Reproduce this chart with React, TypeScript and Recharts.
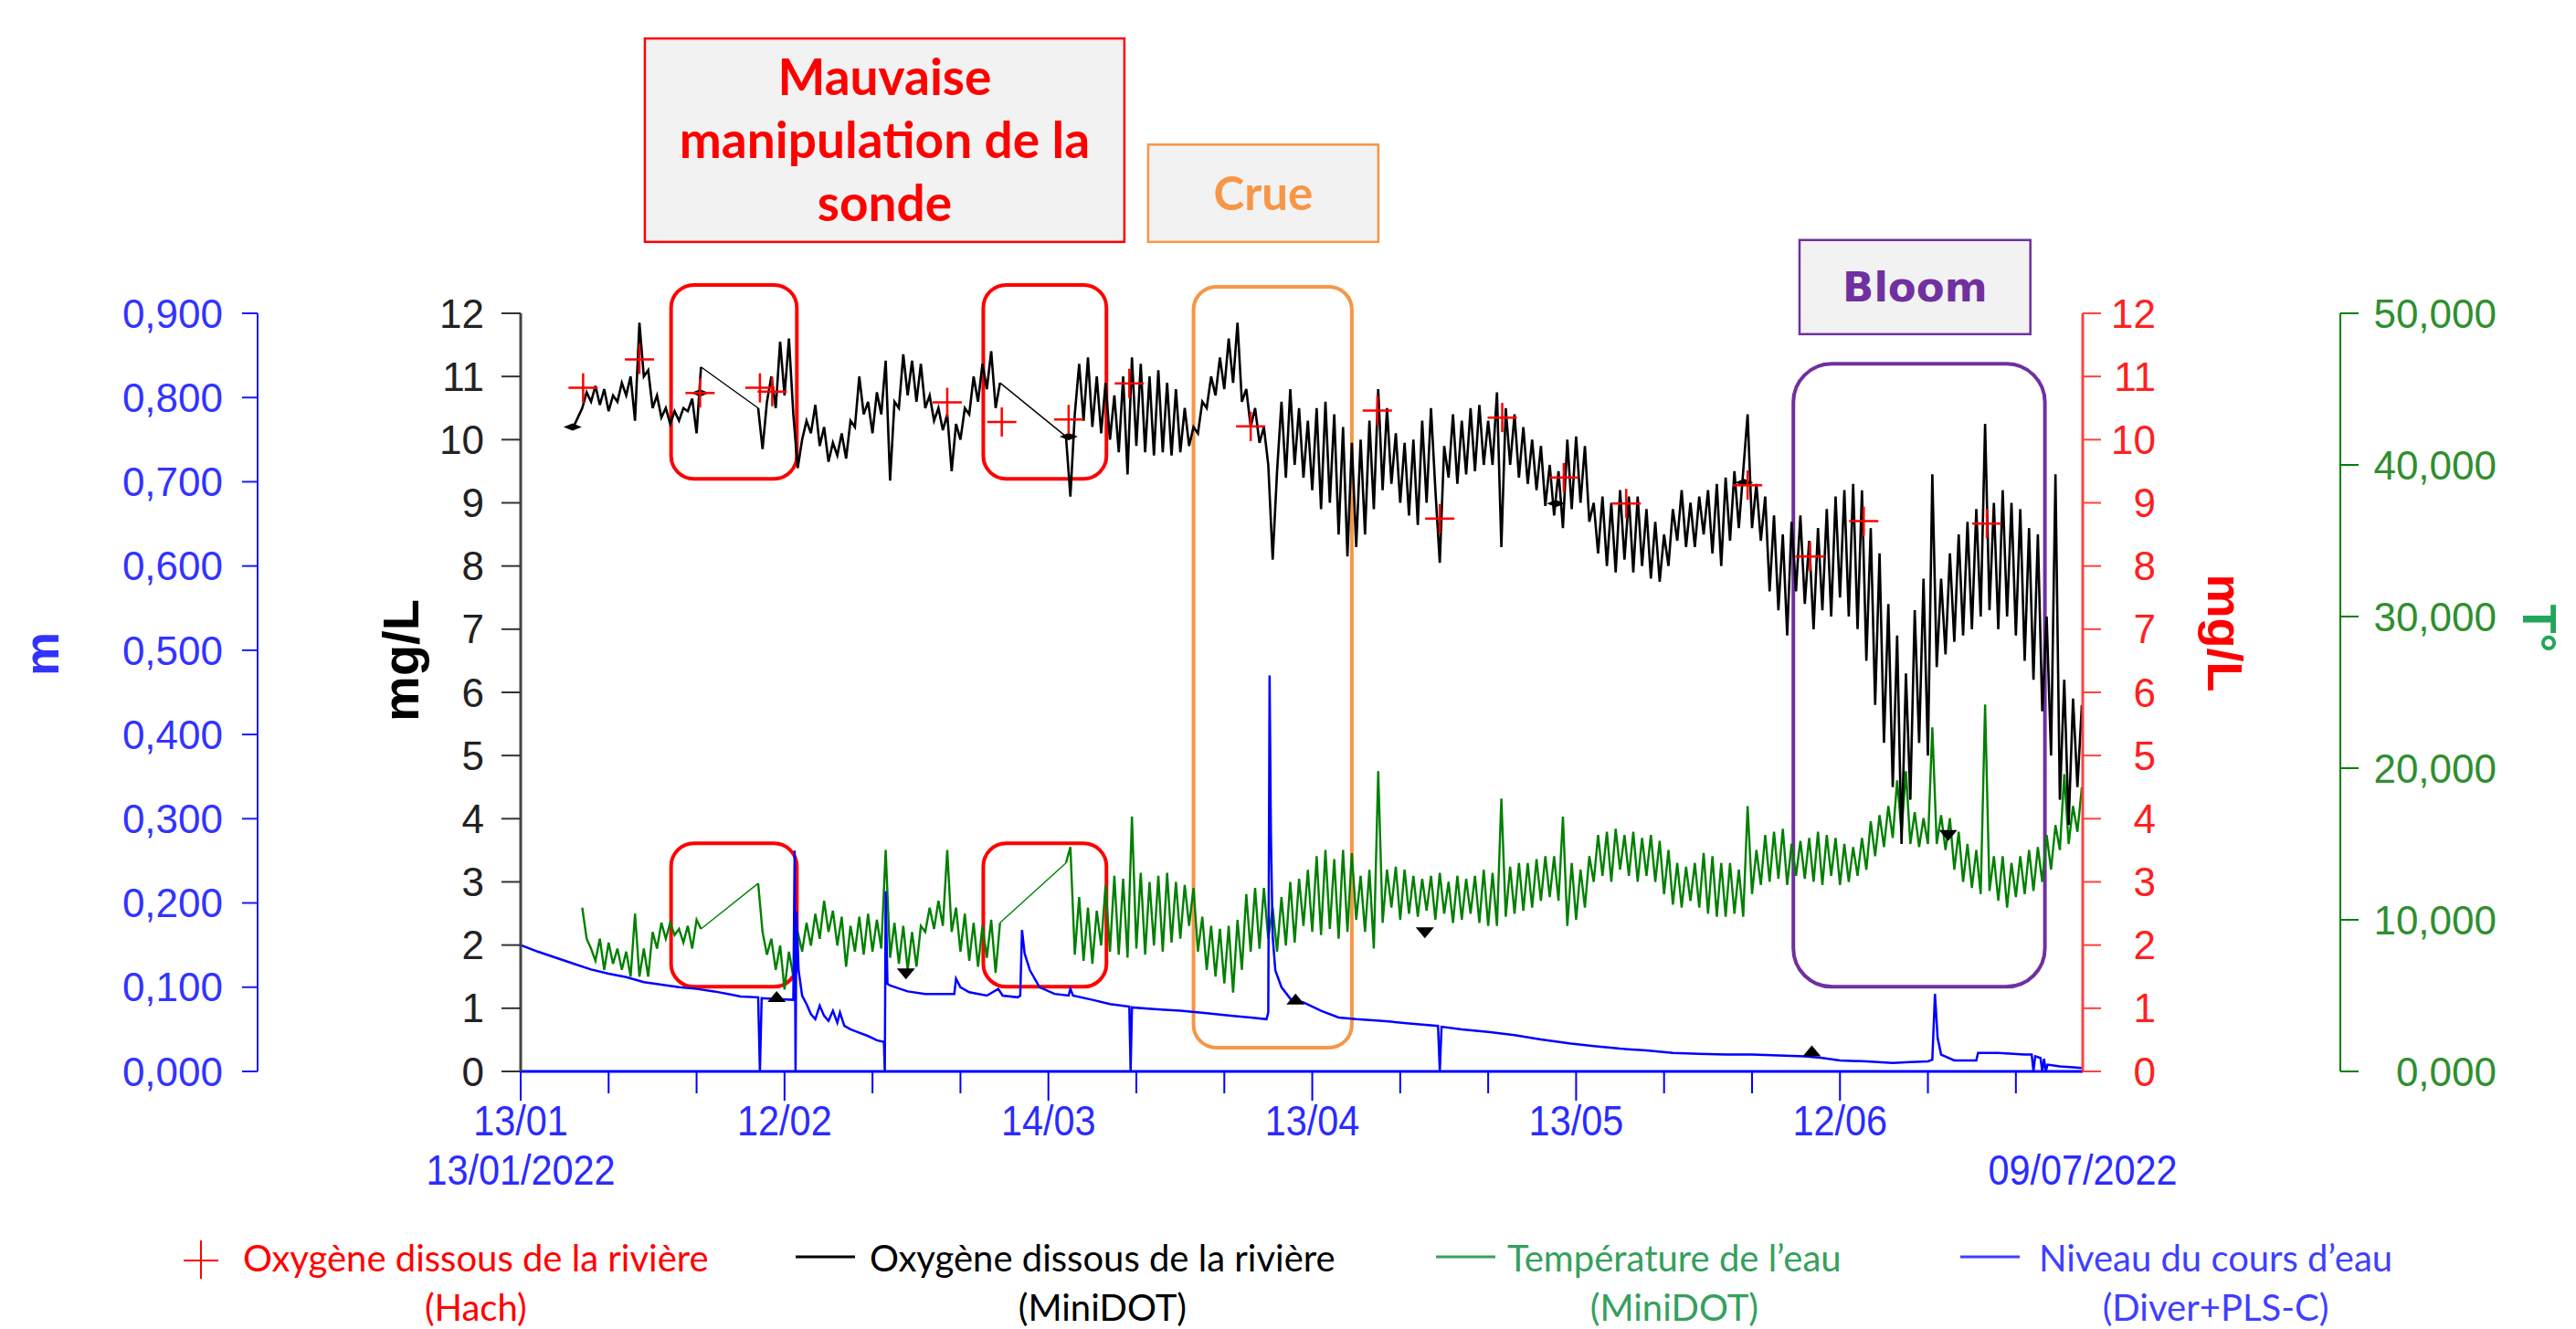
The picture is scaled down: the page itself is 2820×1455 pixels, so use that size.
import React from "react";
import { ComposedChart, Line, Scatter, XAxis, YAxis, ReferenceArea, Legend } from "recharts";

const AXIS_FONT = '"Liberation Sans", Arial, sans-serif';
const NOTE_FONT = 'Lato, "Open Sans", sans-serif';

// time axis in days since 13/01/2022
const DAY_MAX = 177.6;
const dayTicks = [0, 10, 20, 30, 40, 50, 60, 70, 80, 90, 100, 110, 120, 130, 140, 150, 160, 170, DAY_MAX];
const dayLabels: Record<number, string> = { 0: "13/01", 30: "12/02", 60: "14/03", 90: "13/04", 120: "13/05", 150: "12/06" };
const firstDate = "13/01/2022";
const lastDate = "09/07/2022";

const mgTicks = [0, 1, 2, 3, 4, 5, 6, 7, 8, 9, 10, 11, 12];
const levelTicks = [0, 0.1, 0.2, 0.3, 0.4, 0.5, 0.6, 0.7, 0.8, 0.9];
const tempTicks = [0, 10, 20, 30, 40, 50];

// MiniDOT logger, one reading every half day (null = probe out of the water)
const SAMPLE_STEP = 0.5;
const doStart = 6;
const doMiniDot: (number | null)[] = [
  10.2, 10.35, 10.5, 10.75, 10.6, 10.85, 10.55, 10.8, 10.45, 10.7, 10.6, 10.9, 10.7, 11.0, 10.3, 11.85,
  11.0, 11.1, 10.5, 10.7, 10.35, 10.5, 10.25, 10.45, 10.3, 10.5, 10.45, 10.65, 10.1, 11.15,
  null, null, null, null, null, null, null, null, null, null, null, null,
  10.5, 9.85, 10.6, 11.0, 10.5, 11.55, 10.7, 11.6, 10.4, 9.55,
  10.0, 10.3, 10.1, 10.55, 9.9, 10.2, 9.65, 9.95, 9.75, 10.1, 9.7, 10.3, 10.2, 11.0, 10.4, 10.6,
  10.1, 10.75, 10.4, 11.25, 9.35, 10.6, 10.5, 11.35, 10.7, 11.25,
  10.6, 11.2, 10.5, 10.7, 10.3, 10.5, 10.15, 10.4, 9.5, 10.25, 10.0, 10.5, 10.4, 11.0, 10.6, 11.2,
  10.8, 11.4, 10.5, 10.9,
  null, null, null, null, null, null, null, null, null, null, null, null, null, null,
  10.05, 9.1, 10.4, 11.2, 10.3, 11.3, 10.2, 11.0, 10.1, 10.9, 10.0, 10.7, 9.8, 11.0, 9.45, 11.3,
  9.9, 11.2, 9.8, 11.0, 9.75, 11.1, 9.8, 10.9, 9.75, 10.8, 9.8, 10.5,
  9.9, 10.2, 10.1, 10.6, 10.5, 11.0, 10.7, 11.3, 10.8, 11.6, 10.9, 11.85, 10.6, 10.8, 10.2, 10.5,
  9.95, 10.2, 9.6, 8.1, 9.5, 10.6, 9.4, 10.8, 9.6, 10.5, 9.4, 10.3,
  9.2, 10.5, 8.9, 10.6, 9.0, 10.4, 8.5, 10.2, 8.15, 9.95, 8.3, 10.0, 8.5, 10.3, 8.9, 10.8,
  9.2, 10.5, 9.3, 10.1, 9.0, 9.95, 8.8, 10.0, 8.65, 10.3, 9.0, 10.5, 9.2, 8.05,
  9.9, 9.4, 10.4, 9.3, 10.3, 9.45, 10.5, 9.5, 10.55, 9.6, 10.3, 9.6, 10.75, 8.3, 10.5, 9.6,
  10.4, 9.4, 10.2, 9.3, 10.0, 9.2, 9.9, 8.95, 9.6, 8.8, 9.5, 8.6, 10.0, 8.9,
  10.05, 9.0, 9.9, 8.7, 9.0, 8.2, 9.1, 8.0, 9.0, 7.9, 9.2, 8.1, 9.1, 7.9, 9.1, 8.0,
  8.9, 7.8, 8.7, 7.75, 8.5, 8.0, 8.9, 8.4, 9.2, 8.3, 9.0, 8.3,
  9.1, 8.5, 9.2, 8.2, 9.3, 8.0, 9.4, 8.4, 9.5, 8.6, 9.5, 10.4, 8.6, 9.3, 8.4, 9.1,
  7.6, 8.8, 7.3, 8.5, 6.9, 8.7, 7.6, 8.8, 7.4, 8.4, 7.0, 8.6,
  7.3, 8.9, 7.2, 9.1, 7.5, 9.2, 7.2, 9.3, 7.0, 9.2, 6.5, 8.6, 5.8, 8.2, 5.2, 7.4,
  4.5, 6.9, 3.6, 6.3, 4.3, 7.3, 5.2, 7.8, 5.0, 9.45,
  6.4, 7.8, 6.6, 8.2, 6.8, 8.5, 6.9, 8.7, 7.0, 8.9, 7.2, 10.25, 7.3, 9.0, 7.0, 9.2,
  7.2, 9.0, 6.9, 8.9, 6.5, 8.6, 6.2, 8.5, 5.7, 7.2, 5.0, 9.45, 4.3, 6.2, 3.9, 5.9, 4.5, 5.8,
];

// water temperature (°C), same logger
const tempStart = 7;
const tempMiniDot: (number | null)[] = [
  10.8, 8.75, 8.1, 7.3, 8.75, 6.7, 8.5, 7.1, 8.1, 6.7, 7.9, 6.25, 10.4, 6.25, 8.1, 6.25,
  9.2, 8.1, 9.8, 8.75, 9.8, 9.0, 9.4, 8.5, 9.6, 8.1, 10.0, 9.4,
  null, null, null, null, null, null, null, null, null, null, null, null,
  12.4, 9.2, 7.7, 8.75, 6.7, 8.3, 5.4, 7.9, 6.25, 9.2,
  7.9, 9.8, 8.3, 10.4, 8.75, 11.25, 9.2, 10.6, 8.3, 10.2, 6.9, 9.6, 7.9, 10.2, 7.7, 10.4,
  7.9, 10.0, 8.1, 14.6, 7.5, 9.8, 7.1, 9.6, 6.7, 9.2,
  6.9, 9.6, 9.2, 10.8, 9.4, 11.25, 9.6, 14.6, 9.2, 10.8, 7.9, 10.4, 7.3, 9.8, 6.9, 9.6,
  7.5, 10.0, 6.5, 9.8,
  null, null, null, null, null, null, null, null, null, null, null, null, null, null,
  13.75, 14.8, 7.7, 11.5, 7.3, 10.8, 7.1, 10.6, 8.3, 12.3, 7.9, 12.9, 7.7, 12.7, 7.5, 16.8,
  8.1, 13.1, 7.7, 12.5, 8.3, 12.9, 7.9, 13.1, 8.5, 12.5, 8.75, 12.3,
  9.6, 12.1, 7.9, 10.2, 6.7, 9.6, 6.25, 9.4, 5.8, 9.6, 5.2, 10.0, 6.7, 11.7, 7.9, 12.1,
  8.1, 12.1, 8.75, 10.8, 7.9, 11.5, 8.3, 12.5, 8.5, 12.7, 9.6, 13.3,
  9.2, 14.2, 9.0, 14.6, 9.4, 14.0, 8.75, 14.6, 9.2, 14.4, 10.0, 12.9, 9.2, 13.3, 8.1, 19.8,
  9.8, 13.3, 10.8, 13.5, 10.0, 13.3, 10.4, 12.9, 10.2, 12.7, 10.6, 12.9, 10.0, 13.1,
  10.4, 12.5, 9.8, 12.9, 10.0, 12.7, 10.4, 12.9, 9.8, 13.3, 9.6, 13.1, 9.6, 18.0, 10.2, 13.5,
  10.4, 13.75, 10.6, 13.75, 10.8, 14.0, 11.25, 14.2, 11.5, 14.2, 11.25, 16.8, 9.6, 13.75,
  10.0, 13.3, 10.8, 14.2, 12.5, 15.6, 12.9, 15.8, 12.5, 16.0, 13.3, 15.6, 12.9, 15.8, 12.5, 15.4,
  12.9, 15.6, 12.5, 15.2, 11.7, 14.6, 11.0, 13.75, 10.8, 13.5, 11.25, 13.75,
  10.8, 14.4, 10.4, 14.2, 10.2, 13.75, 10.2, 13.75, 10.4, 13.3, 10.2, 17.5, 11.7, 14.6, 12.3, 15.6,
  12.5, 15.8, 12.7, 16.0, 12.3, 15.0, 12.9, 15.2, 12.7, 15.4, 12.5, 15.8,
  12.3, 15.6, 12.9, 15.4, 12.3, 15.0, 12.5, 14.8, 12.9, 15.4, 13.3, 16.5, 14.2, 16.9, 14.8, 17.5,
  15.4, 19.2, 15.8, 19.8, 15.0, 17.1, 14.8, 16.7, 15.0, 22.7,
  15.0, 16.9, 14.6, 16.7, 13.3, 15.8, 12.5, 15.0, 12.1, 14.6, 11.7, 24.2, 11.9, 14.2, 11.25, 14.2,
  10.8, 13.75, 11.5, 14.2, 11.7, 14.6, 11.9, 14.8, 12.5, 15.6, 13.3, 16.25, 14.6, 19.6, 15.0, 17.5,
  15.8, 18.75,
];

// water level (m), Diver + PLS-C
const levelDays = [
  0, 2, 4, 6, 8, 10, 12, 14, 16, 18, 20, 22, 24, 25, 27, 27.2, 27.4, 29, 31, 31.15,
  31.25, 31.35, 31.6, 32, 32.5, 33, 33.5, 34, 34.5, 35, 35.5, 36, 36.3, 36.8, 37.5, 38.5, 39.5, 40.5, 41.3, 41.4,
  41.5, 41.7, 42, 44, 46, 48, 49.3, 49.5, 50, 51, 53, 54.3, 54.8, 56.5, 56.8, 57, 57.3, 57.9, 59, 60.7,
  62.3, 62.5, 62.8, 65, 67, 69.2, 69.35, 69.5, 72, 75, 78, 81, 83, 84.8, 85, 85.15, 85.3, 85.5, 85.8, 86.5,
  87.6, 89, 91, 93, 95, 98, 101, 104.3, 104.5, 104.7, 107, 110, 113, 116, 119.4, 122, 125, 128, 131, 134,
  137, 140, 143, 146, 148, 150, 153, 156, 158, 160, 160.5, 160.8, 161.1, 161.5, 163, 165.5, 165.7, 168, 171, 171.8,
  172, 172.2, 172.8, 173, 173.2, 173.4, 173.6, 175, 176.5, 177.5,
];
const levelValues = [
  0.15, 0.142, 0.135, 0.128, 0.121, 0.116, 0.112, 0.106, 0.103, 0.1, 0.098, 0.095, 0.091, 0.089, 0.088, 0, 0.087, 0.086, 0.085, 0.262,
  0, 0.19, 0.12, 0.09, 0.08, 0.068, 0.062, 0.078, 0.066, 0.06, 0.072, 0.058, 0.07, 0.054, 0.05, 0.046, 0.042, 0.037, 0.035, 0,
  0.214, 0.104, 0.102, 0.095, 0.092, 0.092, 0.092, 0.11, 0.1, 0.094, 0.09, 0.098, 0.09, 0.088, 0.09, 0.168, 0.14, 0.12, 0.1, 0.092,
  0.09, 0.098, 0.09, 0.085, 0.08, 0.077, 0, 0.076, 0.074, 0.072, 0.069, 0.066, 0.064, 0.062, 0.07, 0.47, 0.28, 0.16, 0.12, 0.1,
  0.085, 0.082, 0.072, 0.064, 0.062, 0.06, 0.057, 0.054, 0, 0.053, 0.05, 0.047, 0.043, 0.038, 0.033, 0.03, 0.027, 0.025, 0.022, 0.021,
  0.02, 0.02, 0.019, 0.018, 0.016, 0.013, 0.012, 0.01, 0.011, 0.012, 0.014, 0.092, 0.04, 0.02, 0.013, 0.013, 0.022, 0.022, 0.02, 0.02,
  0, 0.018, 0.016, 0, 0.015, 0, 0.008, 0.006, 0.005, 0.004,
];

// spot measurements with the Hach meter (mg/L)
const hachDays = [7.1, 13.5, 20.4, 27.2, 28.6, 48.5, 54.7, 62.3, 69.2, 83.0, 97.4, 104.5, 111.6, 118.6, 125.7, 139.5, 146.6, 152.7, 166.7];
const hachValues = [10.82, 11.27, 10.74, 10.82, 10.76, 10.59, 10.28, 10.32, 10.89, 10.21, 10.46, 8.75, 10.35, 9.4, 8.99, 9.28, 8.15, 8.71, 8.67];

// small black field-visit markers (mg/L scale)
const markerDays = [5.9, 20.4, 62.3, 117.7, 139.1, 29.1, 88.1, 146.8, 43.8, 102.8, 162.3];
const markerValues = [10.2, 10.74, 10.05, 8.99, 9.32, 1.1, 1.06, 0.24, 1.63, 2.28, 3.82];
const markerKinds = ["bow", "bow", "bow", "bow", "bow", "up", "up", "up", "down", "down", "down"];

type Row = { day: number; v: number | null };
const doData: Row[] = doMiniDot.map((v, i) => ({ day: doStart + i * SAMPLE_STEP, v }));
const tempData: Row[] = tempMiniDot.map((v, i) => ({ day: tempStart + i * SAMPLE_STEP, v }));
const levelData = levelDays.map((d, i) => ({ day: d, v: levelValues[i] }));
const hachData = hachDays.map((d, i) => ({ day: d, v: hachValues[i] }));
const markerData = markerDays.map((d, i) => ({ day: d, v: markerValues[i], kind: markerKinds[i] }));

// Excel joins the gaps with a straight thin line
function gapBridges(rows: Row[]): Row[] {
  const out: Row[] = [];
  for (let i = 1; i < rows.length; i++) {
    if (rows[i].v === null && rows[i - 1].v !== null) {
      let j = i;
      while (j < rows.length && rows[j].v === null) j++;
      if (j < rows.length) out.push(rows[i - 1], rows[j], { day: (rows[i - 1].day + rows[j].day) / 2, v: null });
    }
  }
  return out;
}
const doBridges = gapBridges(doData);
const tempBridges = gapBridges(tempData);

const fmt3 = (v: number) => v.toFixed(3).replace(".", ",");

const renderXTick = (p: any) => {
  const { x, y, payload } = p;
  const v: number = payload.value;
  const label = dayLabels[v];
  const isEnd = v === DAY_MAX;
  const tp = { textAnchor: "middle" as const, fill: "#2b2bff", fontSize: 46, fontFamily: AXIS_FONT };
  return (
    <g>
      {!isEnd && <line x1={x} x2={x} y1={y} y2={y + (label ? 32 : 24)} stroke="#0000ff" strokeWidth={2} />}
      {label && <text {...tp} transform={`translate(${x} ${y + 70}) scale(0.9 1)`}>{label}</text>}
      {v === 0 && <text {...tp} transform={`translate(${x} ${y + 124}) scale(0.9 1)`}>{firstDate}</text>}
      {isEnd && <text {...tp} transform={`translate(${x} ${y + 124}) scale(0.9 1)`}>{lastDate}</text>}
    </g>
  );
};

const rightTick = (color: string, w: number, fmt: (v: number) => string) => (p: any) => (
  <text x={p.x + w} y={p.y} dy="0.355em" textAnchor="end" fill={color} fontSize={44} fontFamily={AXIS_FONT}>
    {fmt(p.payload.value)}
  </text>
);

const axisTitle = (text: string, color: string, dx: number, angle: number, dy: number, size = 54) => (props: any) => {
  const vb = props.viewBox || props;
  const cx = vb.x + dx;
  const cy = vb.y + vb.height / 2 + dy;
  return (
    <text x={cx} y={cy} transform={`rotate(${angle} ${cx} ${cy})`} textAnchor="middle" dominantBaseline="central"
      fill={color} fontSize={size} fontWeight="bold" fontFamily={AXIS_FONT}>
      {text}
    </text>
  );
};

const crossShape = (p: any) => (
  <g stroke="#ff0000" strokeWidth={2.5}>
    <line x1={p.cx - 16} x2={p.cx + 16} y1={p.cy} y2={p.cy} />
    <line x1={p.cx} x2={p.cx} y1={p.cy - 16} y2={p.cy + 16} />
  </g>
);

const markerShape = (p: any) => {
  const { cx, cy } = p;
  const kind = p.payload?.kind;
  if (kind === "up") return <polygon points={`${cx - 10},${cy} ${cx + 10},${cy} ${cx},${cy - 12}`} fill="#000" />;
  if (kind === "down") return <polygon points={`${cx - 10},${cy} ${cx + 10},${cy} ${cx},${cy + 12}`} fill="#000" />;
  return <polygon points={`${cx - 10},${cy} ${cx},${cy - 4} ${cx + 10},${cy} ${cx},${cy + 4}`} fill="#000" />;
};

const roundBox = (color: string, r: number) => (p: any) => (
  <rect x={p.x} y={p.y} width={p.width} height={p.height} rx={r} ry={r} fill="none" stroke={color} strokeWidth={4} />
);

const titleBox = (lines: string[], color: string, font: string, size: number, gap: number) => (p: any) => {
  const cx = p.x + p.width / 2;
  const cy = p.y + p.height / 2;
  return (
    <g>
      <rect x={p.x} y={p.y} width={p.width} height={p.height} fill="#f2f2f2" stroke={color} strokeWidth={2.5} />
      <text textAnchor="middle" fill={color} fontFamily={font} fontSize={size} fontWeight="bold">
        {lines.map((l, i) => (
          <tspan key={l} x={cx} y={cy + (i - (lines.length - 1) / 2) * gap} dy="0.36em">{l}</tspan>
        ))}
      </text>
    </g>
  );
};

const legendItems = [
  { kind: "cross", color: "#ff0000", line1: "Oxygène dissous de la rivière", line2: "(Hach)", iconX: 201, textX: 266 },
  { kind: "line", color: "#000000", line1: "Oxygène dissous de la rivière", line2: "(MiniDOT)", iconX: 871, textX: 952 },
  { kind: "line", color: "#35a05c", line1: "Température de l’eau", line2: "(MiniDOT)", iconX: 1572, textX: 1650 },
  { kind: "line", color: "#3f3fff", line1: "Niveau du cours d’eau", line2: "(Diver+PLS-C)", iconX: 2146, textX: 2232 },
];

const renderLegend = () => (
  <div style={{ position: "relative", width: 2820, height: 120, fontFamily: NOTE_FONT, fontSize: 40 }}>
    {legendItems.map((it) => (
      <React.Fragment key={it.textX}>
        <svg style={{ position: "absolute", left: it.iconX, top: 20 }} width={66} height={48}>
          {it.kind === "cross" ? (
            <g stroke={it.color} strokeWidth={2}>
              <line x1={0} x2={38} y1={25} y2={25} />
              <line x1={19} x2={19} y1={3} y2={45} />
            </g>
          ) : (
            <line x1={0} x2={65} y1={21} y2={21} stroke={it.color} strokeWidth={3} />
          )}
        </svg>
        <div style={{ position: "absolute", left: it.textX, top: 15, color: it.color, textAlign: "center", lineHeight: "54px", whiteSpace: "nowrap" }}>
          {it.line1}
          <br />
          {it.line2}
        </div>
      </React.Fragment>
    ))}
  </div>
);

export default function App() {
  return (
    <div style={{ position: "absolute", left: 0, top: 0, width: 2820, height: 1455, background: "#fff" }}>
      <ComposedChart width={2820} height={1455} margin={{ top: 343, right: 0, bottom: 0, left: 0 }}>
        <XAxis dataKey="day" type="number" domain={[0, DAY_MAX]} ticks={dayTicks} interval={0} allowDataOverflow
          height={162} tickSize={0} tickMargin={0} tickLine={false}
          axisLine={{ stroke: "#0000ff", strokeWidth: 3 }} tick={renderXTick} />
        <YAxis yAxisId="do" orientation="left" width={288} domain={[0, 12]} ticks={mgTicks} interval={0}
          axisLine={{ stroke: "#444", strokeWidth: 3 }} tickLine={{ stroke: "#333", strokeWidth: 2 }}
          tickSize={21} tickMargin={19} tick={{ fill: "#222", fontSize: 44, fontFamily: AXIS_FONT }}
          label={axisTitle("mg/L", "#000", 156, -90, -35, 56)} />
        <YAxis yAxisId="level" orientation="left" width={282} domain={[0, 0.9]} ticks={levelTicks} interval={0}
          tickFormatter={fmt3} axisLine={{ stroke: "#1a1aff", strokeWidth: 2 }} tickLine={{ stroke: "#1a1aff", strokeWidth: 2 }}
          tickSize={17} tickMargin={21} tick={{ fill: "#3333ff", fontSize: 44, fontFamily: AXIS_FONT }}
          label={axisTitle("m", "#3333ff", 45, -90, -42)} />
        <YAxis yAxisId="hach" orientation="right" width={282} domain={[0, 12]} ticks={mgTicks} interval={0}
          axisLine={{ stroke: "#ff4040", strokeWidth: 3 }} tickLine={{ stroke: "#ff4040", strokeWidth: 2 }}
          tickSize={20} tickMargin={15} tick={rightTick("#ff2020", 45, (v) => String(v))}
          label={axisTitle("mg/L", "#ff0000", 156, 90, -65)} />
        <YAxis yAxisId="temp" orientation="right" width={258} domain={[0, 50]} ticks={tempTicks} interval={0}
          axisLine={{ stroke: "#008000", strokeWidth: 2 }} tickLine={{ stroke: "#008000", strokeWidth: 2 }}
          tickSize={20} tickMargin={14} tick={rightTick("#2f8f2f", 137, fmt3)}
          label={axisTitle("T°", "#22a65a", 218, 90, -70, 52)} />

        <Line data={tempData} dataKey="v" yAxisId="temp" type="linear" stroke="#008000" strokeWidth={2.4} dot={false} isAnimationActive={false} />
        <Line data={tempBridges} dataKey="v" yAxisId="temp" type="linear" stroke="#008000" strokeWidth={1.4} dot={false} isAnimationActive={false} />
        <Line data={levelData} dataKey="v" yAxisId="level" type="linear" stroke="#0000ff" strokeWidth={2.5} dot={false} isAnimationActive={false} />
        <Line data={doData} dataKey="v" yAxisId="do" type="linear" stroke="#000000" strokeWidth={2.6} dot={false} isAnimationActive={false} />
        <Line data={doBridges} dataKey="v" yAxisId="do" type="linear" stroke="#000000" strokeWidth={1.4} dot={false} isAnimationActive={false} />
        <Scatter data={markerData} dataKey="v" yAxisId="do" shape={markerShape} isAnimationActive={false} />
        <Scatter data={hachData} dataKey="v" yAxisId="hach" shape={crossShape} isAnimationActive={false} />

        <ReferenceArea yAxisId="do" x1={17.1} x2={31.4} y1={9.38} y2={12.45} ifOverflow="visible" shape={roundBox("#ff0000", 25)} />
        <ReferenceArea yAxisId="do" x1={17.1} x2={31.4} y1={1.34} y2={3.61} ifOverflow="visible" shape={roundBox("#ff0000", 25)} />
        <ReferenceArea yAxisId="do" x1={52.6} x2={66.6} y1={9.38} y2={12.45} ifOverflow="visible" shape={roundBox("#ff0000", 25)} />
        <ReferenceArea yAxisId="do" x1={52.6} x2={66.6} y1={1.34} y2={3.61} ifOverflow="visible" shape={roundBox("#ff0000", 25)} />
        <ReferenceArea yAxisId="do" x1={76.5} x2={94.5} y1={0.376} y2={12.42} ifOverflow="visible" shape={roundBox("#f79646", 25)} />
        <ReferenceArea yAxisId="do" x1={144.7} x2={173.3} y1={1.34} y2={11.2} ifOverflow="visible" shape={roundBox("#7030a0", 42)} />

        <ReferenceArea yAxisId="do" x1={14.12} x2={68.64} y1={13.13} y2={16.35} ifOverflow="visible"
          shape={titleBox(["Mauvaise", "manipulation de la", "sonde"], "#ff0000", NOTE_FONT, 55, 69)} />
        <ReferenceArea yAxisId="do" x1={71.34} x2={97.51} y1={13.13} y2={14.67} ifOverflow="visible"
          shape={titleBox(["Crue"], "#f79646", NOTE_FONT, 51, 0)} />
        <ReferenceArea yAxisId="do" x1={145.4} x2={171.65} y1={11.67} y2={13.16} ifOverflow="visible"
          shape={titleBox(["Bloom"], "#7030a0", '"DejaVu Sans", sans-serif', 45, 0)} />

        <Legend verticalAlign="bottom" content={renderLegend} />
      </ComposedChart>
    </div>
  );
}
